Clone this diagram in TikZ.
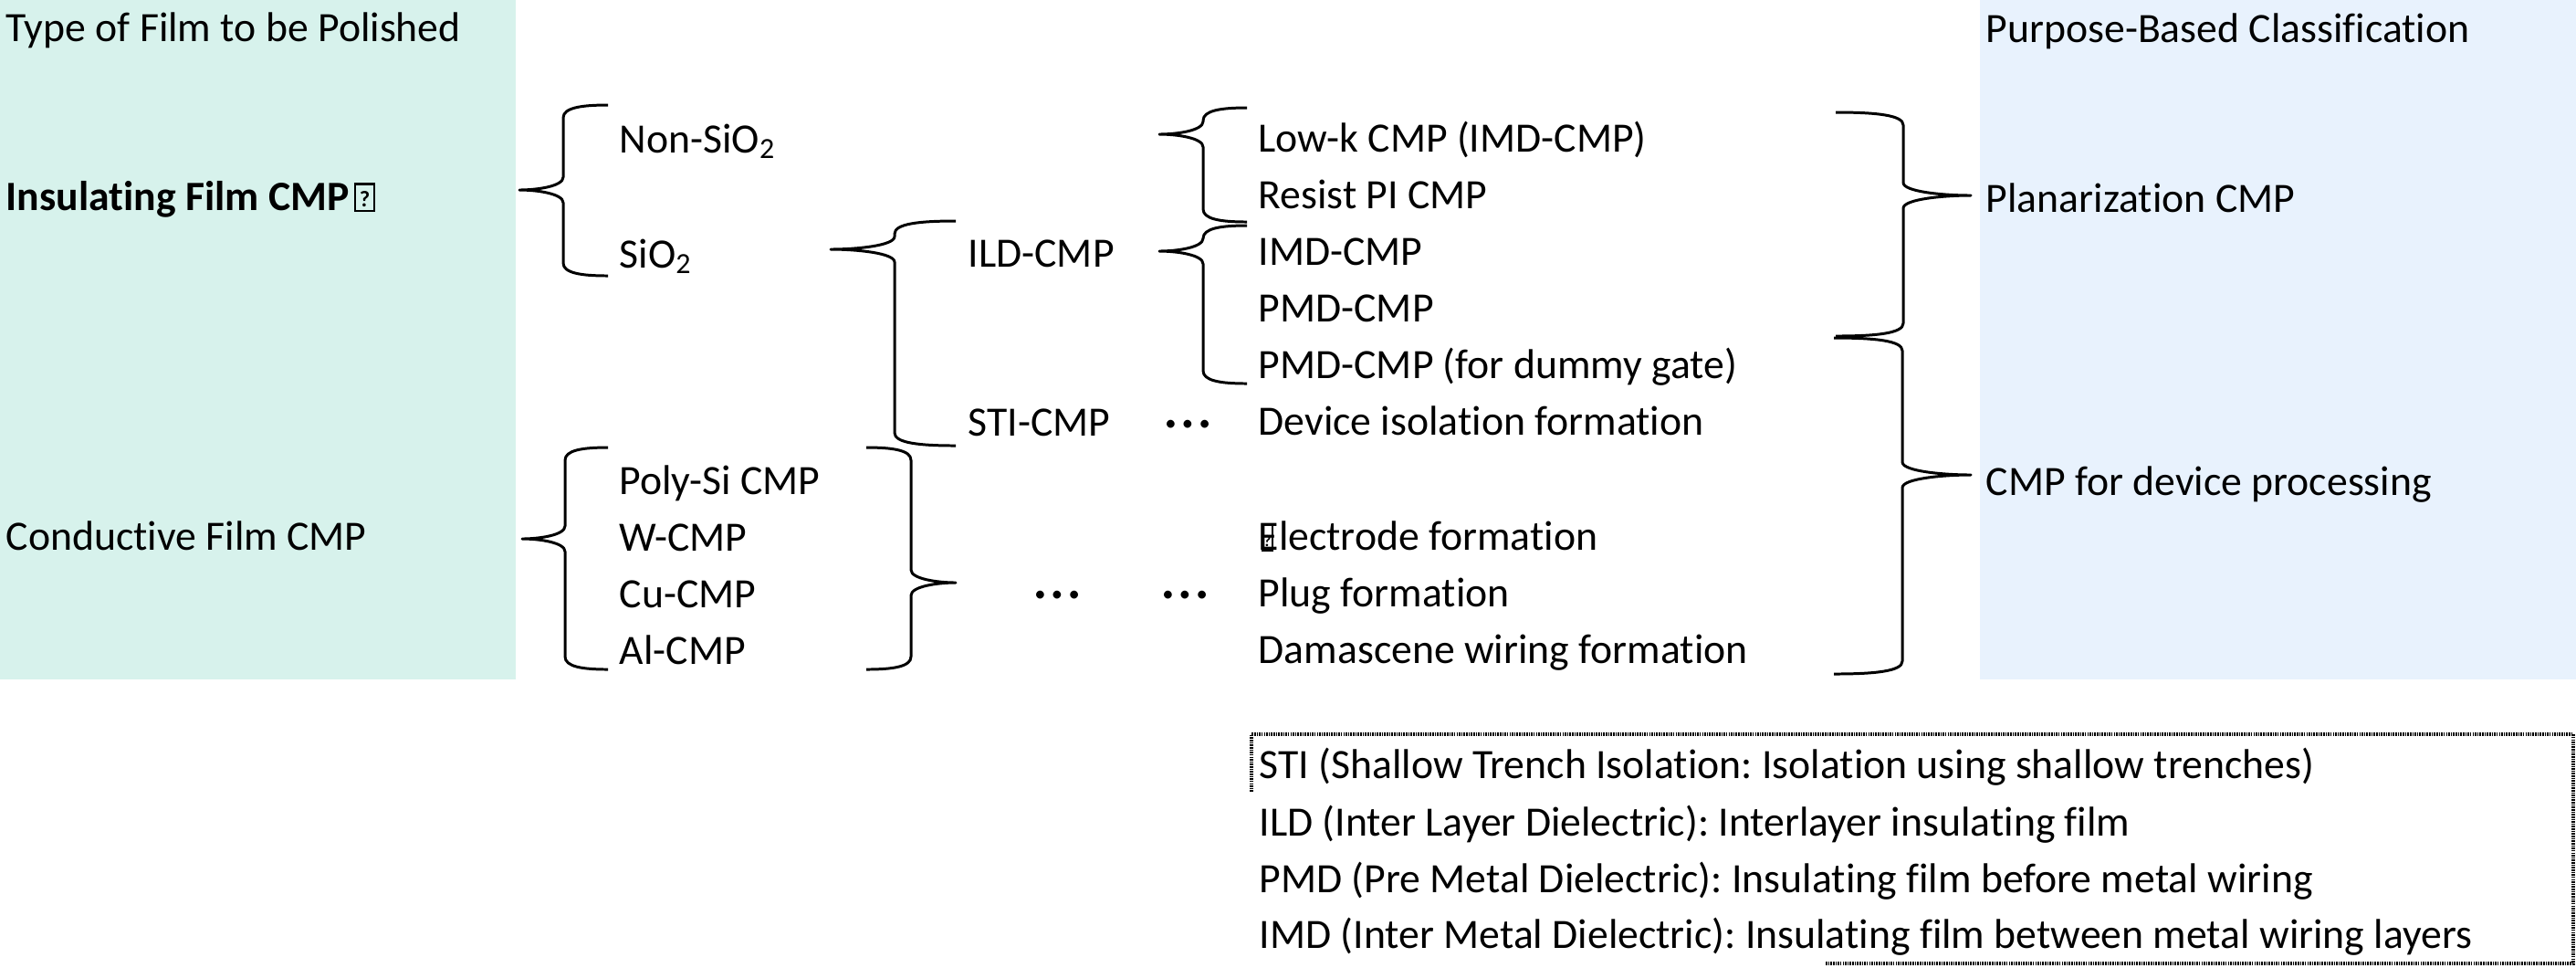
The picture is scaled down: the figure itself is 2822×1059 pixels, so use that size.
\documentclass[tikz,border=0pt]{standalone}
\usepackage{fontspec}
\setmainfont{Carlito}[Ligatures={NoCommon}]
\definecolor{tealbg}{RGB}{215,242,236}
\definecolor{bluebg}{RGB}{232,242,253}
% #1 end x, #2 vertical x, #3 tip x, #4 top y, #5 tip y, #6 bottom y
\newcommand{\CurlyBr}[6]{%
\draw[brace] (#1,#4) .. controls ({#2+0.4*(#1-#2)},#4) and (#2,#4+3) .. (#2,#4+14)
  -- (#2,#5-14) .. controls (#2,#5-4) and ({#2+0.6*(#3-#2)},#5) .. (#3,#5)
  .. controls ({#2+0.6*(#3-#2)},#5) and (#2,#5+4) .. (#2,#5+14)
  -- (#2,#6-14) .. controls (#2,#6-3) and ({#2+0.4*(#1-#2)},#6) .. (#1,#6);}
\newcommand{\tofubox}[3]{{\setlength{\fboxsep}{0pt}\setlength{\fboxrule}{0.6pt}\fbox{\makebox[#1]{\rule{0pt}{#2}\raisebox{1pt}{\fontsize{#3}{#3}\selectfont\bfseries ?}}}}}
\newcommand{\threedots}{\raisebox{1.6pt}{\fontsize{7pt}{7pt}\selectfont\makebox[5.3pt]{•}\makebox[5.3pt]{•}\makebox[5.3pt]{•}}}
\begin{document}
\frenchspacing
\begin{tikzpicture}[x=0.01cm,y=-0.01cm,
  txt/.style={anchor=base west,inner sep=0pt,font=\fontsize{13pt}{15pt}\selectfont},
  dots/.style={anchor=base,inner sep=0pt,font=\fontsize{13pt}{15pt}\selectfont},
  brace/.style={line width=0.85pt,line join=round},
  dashbox/.style={line width=0.9pt,dash pattern=on 0.45pt off 0.3pt}]
\useasboundingbox (0,0) rectangle (2822,1059);
\fill[tealbg] (0,0) rectangle (565,744);
\fill[bluebg] (2169,0) rectangle (2822,744);

% left column
\node[txt] (type) at (6,45) {Type of Film to be Polished};
\node[txt] (ins) at (6,230) {\textbf{Insulating Film CMP}\kern1.5pt\tofubox{5.4pt}{7.8pt}{7pt}};
\node[txt] (cond) at (6,602) {Conductive Film CMP};

% second column
\node[txt] (nonsio) at (678,167) {Non-SiO\textsubscript{2}};
\node[txt] (sio) at (678,293) {SiO\textsubscript{2}};
\node[txt] (poly) at (678,541) {Poly-Si CMP};
\node[txt] (wcmp) at (678,603) {W-CMP};
\node[txt] (cucmp) at (678,665) {Cu-CMP};
\node[txt] (alcmp) at (678,727) {Al-CMP};

% third column
\node[txt] (ild) at (1060,292) {ILD-CMP};
\node[txt] (sti) at (1060,477) {STI-CMP};
\node[dots] (d1) at (1301,477) {\threedots};
\node[dots] (d2) at (1158,664) {\threedots};
\node[dots] (d3) at (1298,664) {\threedots};

% fourth column
\node[txt] (lowk) at (1378,166) {Low-k CMP (IMD-CMP)};
\node[txt] (resist) at (1378,228) {Resist PI CMP};
\node[txt] (imd) at (1378,290) {IMD-CMP};
\node[txt] (pmd) at (1378,352) {PMD-CMP};
\node[txt] (pmdd) at (1378,414) {PMD-CMP (for dummy gate)};
\node[txt] (devi) at (1378,476) {Device isolation formation};
\node[txt] (elec) at (1378,602) {\rlap{\kern1pt\tofubox{2.4pt}{7.6pt}{5pt}}Electrode formation};
\node[txt] (plug) at (1378,664) {Plug formation};
\node[txt] (dama) at (1378,726) {Damascene wiring formation};

% right column
\node[txt] (purp) at (2175,46) {Purpose-Based Classification};
\node[txt] (plan) at (2175,232) {Planarization CMP};
\node[txt] (devp) at (2175,542) {CMP for device processing};

% braces
\CurlyBr{666}{617}{569}{115}{208}{302}
\CurlyBr{1047}{980}{910}{242}{273}{488}
\CurlyBr{1366}{1318}{1270}{247}{275}{420}
\CurlyBr{1366}{1318}{1270}{118}{147}{243}
\CurlyBr{666}{619}{572}{490}{590}{733}
\CurlyBr{949}{998}{1047}{490}{638}{733}
\CurlyBr{2011}{2085}{2159}{123}{214}{368}
\CurlyBr{2009}{2084}{2159}{370}{520}{738}

% legend box (partly visible dashed frame)
\node[txt] (l1) at (1379,852) {STI (Shallow Trench Isolation: Isolation using shallow trenches)};
\node[txt] (l2) at (1379,915) {ILD (Inter Layer Dielectric): Interlayer insulating film};
\node[txt] (l3) at (1379,977) {PMD (Pre Metal Dielectric): Insulating film before metal wiring};
\node[txt] (l4) at (1379,1038) {IMD (Inter Metal Dielectric): Insulating film between metal wiring layers};
\coordinate (bTL) at (1371,804);
\coordinate (bTR) at (2819,804);
\coordinate (bBR) at (2819,1055);
\coordinate (bBL) at (2000,1055);
\coordinate (bLL) at (1371,867);
\draw[dashbox] (bLL) -- (bTL) -- (bTR) -- (bBR) -- (bBL);
\end{tikzpicture}
\end{document}
